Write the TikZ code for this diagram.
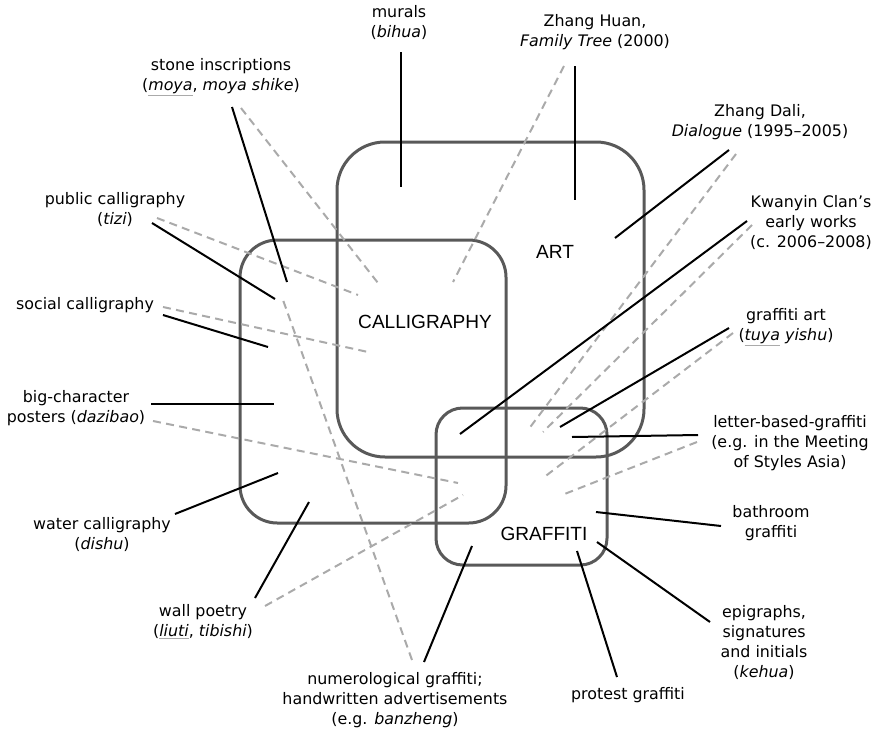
\documentclass[tikz,border=0pt]{standalone}
\usepackage{fontspec}
\usepackage{xcolor}
\setmainfont{DejaVu Sans}
\newfontfamily\boxfont{Liberation Sans}
\usetikzlibrary{arrows.meta, positioning}

\definecolor{boxgray}{RGB}{89,89,89}
\definecolor{hintgray}{RGB}{170,170,170}
% gray link underline under pinyin terms
\newcommand{\gul}[1]{{\color{hintgray}\underline{\color{black}#1}}}

\begin{document}
\begin{tikzpicture}[x=0.75pt,y=0.75pt,yscale=-1,xscale=1,
  lbl/.style={font=\fontsize{11.9}{15}\selectfont, align=center, inner sep=0.75pt},
  boxlbl/.style={font=\boxfont\fontsize{14.3}{17}\selectfont, inner sep=0.75pt},
  areabox/.style={draw=boxgray, line width=2.25},
  solidln/.style={draw=black, line width=1.5},
  dashline/.style={draw=hintgray, line width=1.5, dash pattern=on 6pt off 4pt}]
\useasboundingbox (0,0) rectangle (878,732);

%Rounded Rect [ART]
\draw [areabox, rounded corners=36] (337,142) rectangle (644,457);
%Rounded Rect [CALLIGRAPHY]
\draw [areabox, rounded corners=28] (240,240) rectangle (506,523);
%Rounded Rect [GRAFFITI]
\draw [areabox, rounded corners=20] (436,408) rectangle (607,565);

% Text Node
\node [boxlbl] (art) at (555,252) {ART};
% Text Node
\node [boxlbl] (calli) at (425,322) {CALLIGRAPHY};
% Text Node
\node [boxlbl] (graf) at (544,534) {GRAFFITI};

% Text Node
\node [lbl] (murals) at (399,23) {murals\\(\textit{bihua})};
% Text Node
\node [lbl] (zhuan) at (595,32) {Zhang Huan,\\\textit{Family Tree} (2000)};
% Text Node
\node [lbl] (stone) at (221,77) {stone inscriptions\\(\textit{\gul{moya}}, \textit{moya shike})};
% Text Node
\node [lbl] (public) at (115,210) {public calligraphy\\(\textit{tizi})};
% Text Node
\node [lbl] (social) at (85,305) {social calligraphy};
% Text Node
\node [lbl] (dazibao) at (76,408) {big-character\\posters (\textit{dazibao})};
% Text Node
\node [lbl] (water) at (102,535) {water calligraphy\\(\textit{dishu})};
% Text Node
\node [lbl] (wallp) at (203,622) {wall poetry\\(\textit{\gul{liuti}}, \textit{tibishi})};
% Text Node
\node [lbl] (numer) at (395,700) {numerological graffiti;\\handwritten advertisements\\(e.g. \textit{banzheng})};
% Text Node
\node [lbl] (protest) at (628,695) {protest graffiti};
% Text Node
\node [lbl] (epig) at (764,643) {epigraphs,\\signatures\\and initials\\(\textit{kehua})};
% Text Node
\node [lbl] (bath) at (771,523) {bathroom\\graffiti};
% Text Node
\node [lbl] (letter) at (790,443) {letter-based-graffiti\\(e.g. in the Meeting\\of Styles Asia)};
% Text Node
\node [lbl] (gart) at (786,327) {graffiti art\\(\textit{\gul{tuya}} \textit{yishu})};
% Text Node
\node [lbl] (kwanyin) at (811,223) {Kwanyin Clan’s\\early works\\(c. 2006–2008)};
% Text Node
\node [lbl] (zdali) at (760,122) {Zhang Dali,\\\textit{Dialogue} (1995–2005)};

% line ends
\coordinate (murals-s1) at (401,52);  \coordinate (murals-s2) at (401,187);
\coordinate (zhuan-s1) at (575,66);   \coordinate (zhuan-s2) at (575,200);
\coordinate (zhuan-d1) at (564,66);   \coordinate (zhuan-d2) at (453,282);
\coordinate (stone-s1) at (232,107);  \coordinate (stone-s2) at (287,282);
\coordinate (stone-d1) at (241,108);  \coordinate (stone-d2) at (378,283);
\coordinate (public-s1) at (152,223); \coordinate (public-s2) at (275,299);
\coordinate (public-d1) at (157,218); \coordinate (public-d2) at (358,295);
\coordinate (social-s1) at (163,315); \coordinate (social-s2) at (268,347);
\coordinate (social-d1) at (163,307); \coordinate (social-d2) at (368,352);
\coordinate (dazibao-s1) at (151,404); \coordinate (dazibao-s2) at (274,404);
\coordinate (dazibao-d1) at (153,421); \coordinate (dazibao-d2) at (458,483);
\coordinate (water-s1) at (175,514);  \coordinate (water-s2) at (278,473);
\coordinate (wallp-s1) at (255,598);  \coordinate (wallp-s2) at (309,502);
\coordinate (wallp-d1) at (265,606);  \coordinate (wallp-d2) at (463,495);
\coordinate (numer-s1) at (424,662);  \coordinate (numer-s2) at (472,546);
\coordinate (numer-d1) at (412,660);  \coordinate (numer-d2) at (283,300);
\coordinate (protest-s1) at (617,677); \coordinate (protest-s2) at (577,551);
\coordinate (epig-s1) at (710,622);   \coordinate (epig-s2) at (597,542);
\coordinate (bath-s1) at (721,526);   \coordinate (bath-s2) at (596,512);
\coordinate (letter-s1) at (698,435); \coordinate (letter-s2) at (572,437);
\coordinate (letter-d1) at (697,442); \coordinate (letter-d2) at (562,495);
\coordinate (gart-s1) at (729,328);   \coordinate (gart-s2) at (560,427);
\coordinate (gart-d1) at (733,333);   \coordinate (gart-d2) at (543,478);
\coordinate (kwanyin-s1) at (747,221); \coordinate (kwanyin-s2) at (460,434);
\coordinate (kwanyin-d1) at (752,225); \coordinate (kwanyin-d2) at (543,432);
\coordinate (zdali-s1) at (729,150);  \coordinate (zdali-s2) at (615,238);
\coordinate (zdali-d1) at (736,154);  \coordinate (zdali-d2) at (528,430);

%Dashed Lines
\foreach \n in {zhuan,stone,public,social,dazibao,wallp,numer,letter,gart,kwanyin,zdali}
  \draw [dashline] (\n-d1) -- (\n-d2);

%Straight Lines
\foreach \n in {murals,zhuan,stone,public,social,dazibao,water,wallp,numer,protest,epig,bath,letter,gart,kwanyin,zdali}
  \draw [solidln] (\n-s1) -- (\n-s2);

\end{tikzpicture}
\end{document}
